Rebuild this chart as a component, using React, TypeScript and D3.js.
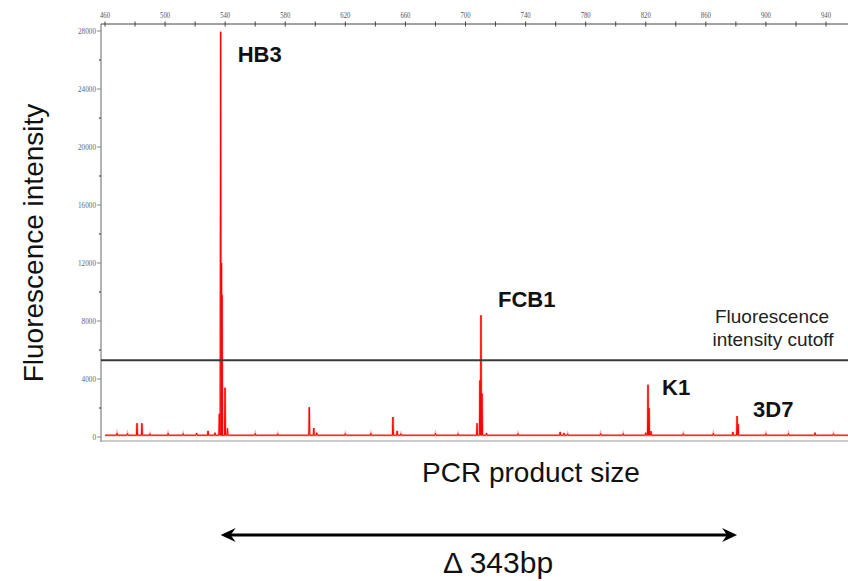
import React, { useEffect, useRef } from "react";
import * as d3 from "d3";

// fragment sizes (bp) and fluorescence of each spike in the trace
const peakSizes = [
  468, 475, 481.3, 484.6, 490, 502, 512, 521, 528.6, 533.2, 536.1, 537.0, 537.6, 537.9, 539.9,
  541.5, 560, 575, 596, 599, 601, 620, 637, 651.7, 654.5, 657, 680, 695, 707.7, 709.6, 710.3,
  711.0, 714, 735, 763, 765.5, 768, 790, 805, 820, 821.5, 822.2, 823.5, 845, 865, 878, 880.8,
  881.5, 900, 915, 932.7, 945,
];
const peakHeights = [
  260, 240, 950, 950, 220, 250, 230, 280, 420, 300, 1600, 27950, 12000, 9800, 3400,
  600, 240, 220, 2050, 620, 300, 230, 250, 1380, 420, 220, 240, 220, 950, 3900, 8400,
  3000, 280, 230, 350, 280, 220, 240, 230, 300, 3600, 2000, 400, 230, 250, 350, 1450,
  900, 230, 240, 300, 220,
];

const baseline = 120;
const cutoff = 5300;

const labelNames = ["HB3", "FCB1", "K1", "3D7"];
const labelSizes = [537.0, 710.3, 821.5, 880.8];
const labelHeights = [27950, 8400, 3600, 1450];

const sizeTicks = [460, 500, 540, 580, 620, 660, 700, 740, 780, 820, 860, 900, 940];
const intensityTicks = [0, 4000, 8000, 12000, 16000, 20000, 24000, 28000];

const App = () => {
  const ref = useRef<SVGSVGElement>(null);

  useEffect(() => {
    const svg = d3.select(ref.current);
    svg.selectAll("*").remove();

    const x = d3.scaleLinear().domain([460, 940]).range([105, 826]);
    const y = d3.scaleLinear().domain([0, 28000]).range([437, 31]);
    const left = 101;
    const right = 848;
    const top = 24;

    const tickFont = "Liberation Serif";
    const sans = "Liberation Sans";

    // frame
    svg.append("line").attr("x1", left).attr("x2", right).attr("y1", 441).attr("y2", 441)
      .attr("stroke", "#9a9a9a").attr("stroke-width", 1.2);
    svg.append("line").attr("x1", left).attr("x2", left).attr("y1", top).attr("y2", 442)
      .attr("stroke", "#9a9a9a").attr("stroke-width", 1.5);

    // top axis
    svg.append("line").attr("x1", left).attr("x2", right).attr("y1", top).attr("y2", top)
      .attr("stroke", "#444").attr("stroke-width", 1);
    const minorX = d3.range(440, 961, 20).filter((v) => x(v) > left && x(v) < right);
    svg.append("g").selectAll("line").data(minorX).enter().append("line")
      .attr("x1", (d) => x(d)).attr("x2", (d) => x(d))
      .attr("y1", top - 2.5).attr("y2", top + 2.5)
      .attr("stroke", "#444").attr("stroke-width", 1);
    svg.append("g").selectAll("text").data(sizeTicks).enter().append("text")
      .attr("x", (d) => x(d)).attr("y", 18)
      .attr("text-anchor", "middle")
      .attr("font-family", tickFont).attr("font-size", 8)
      .attr("fill", "#555")
      .attr("textLength", 10).attr("lengthAdjust", "spacingAndGlyphs")
      .text((d) => d);

    // left axis
    const minorY = d3.range(2000, 28000, 4000);
    svg.append("g").selectAll("line").data(minorY).enter().append("line")
      .attr("x1", left - 2).attr("x2", left)
      .attr("y1", (d) => y(d)).attr("y2", (d) => y(d))
      .attr("stroke", "#666").attr("stroke-width", 1.5);
    svg.append("g").selectAll("line").data(intensityTicks).enter().append("line")
      .attr("x1", left - 4).attr("x2", left)
      .attr("y1", (d) => y(d)).attr("y2", (d) => y(d))
      .attr("stroke", "#888").attr("stroke-width", 1);
    svg.append("g").selectAll("text").data(intensityTicks).enter().append("text")
      .attr("x", left - 5).attr("y", (d) => y(d) + 2.5)
      .attr("text-anchor", "end")
      .attr("font-family", tickFont).attr("font-size", 8)
      .attr("fill", "#666")
      .attr("textLength", (d) => String(d).length * 3.6)
      .attr("lengthAdjust", "spacingAndGlyphs")
      .text((d) => d);

    // trace
    const pts: [number, number][] = [[460, baseline]];
    peakSizes.forEach((s, i) => {
      pts.push([s - 0.35, baseline]);
      pts.push([s, peakHeights[i]]);
      pts.push([s + 0.35, baseline]);
    });
    pts.push([960, baseline]);
    const line = d3.line<[number, number]>()
      .x((d) => Math.min(x(d[0]), right))
      .y((d) => y(d[1]));
    svg.append("path").datum(pts).attr("d", line)
      .attr("fill", "none").attr("stroke", "#ff8080").attr("stroke-width", 2.4)
      .attr("opacity", 0.6);
    svg.append("path").datum(pts).attr("d", line)
      .attr("fill", "none").attr("stroke", "#ff0000").attr("stroke-width", 1);

    // cutoff
    svg.append("line").attr("x1", left).attr("x2", right)
      .attr("y1", y(cutoff)).attr("y2", y(cutoff))
      .attr("stroke", "#3a3a3a").attr("stroke-width", 2);

    // peak labels
    const labelDx = [17, 17, 14, 16];
    const labelDy = [30, -8, 10, 1];
    svg.append("g").selectAll("text").data(labelNames).enter().append("text")
      .attr("x", (d, i) => x(labelSizes[i]) + labelDx[i])
      .attr("y", (d, i) => y(labelHeights[i]) + labelDy[i])
      .attr("font-family", sans).attr("font-weight", "bold")
      .attr("font-size", 22).attr("fill", "#111")
      .text((d) => d);

    svg.append("text").attr("x", 772).attr("y", 323).attr("text-anchor", "middle")
      .attr("font-family", sans).attr("font-size", 19).attr("fill", "#222")
      .text("Fluorescence");
    svg.append("text").attr("x", 773).attr("y", 346).attr("text-anchor", "middle")
      .attr("font-family", sans).attr("font-size", 19).attr("fill", "#222")
      .text("intensity cutoff");

    // axis titles
    svg.append("text")
      .attr("transform", "translate(43,243)rotate(-90)")
      .attr("text-anchor", "middle")
      .attr("font-family", sans).attr("font-size", 28).attr("fill", "#111")
      .text("Fluorescence intensity");
    svg.append("text").attr("x", 531).attr("y", 482).attr("text-anchor", "middle")
      .attr("font-family", sans).attr("font-size", 28).attr("fill", "#111")
      .text("PCR product size");

    // distance arrow between HB3 and 3D7
    const ay = 535;
    const ax1 = x(labelSizes[0]);
    const ax2 = x(labelSizes[3]);
    svg.append("line").attr("x1", ax1 + 6).attr("x2", ax2 - 6).attr("y1", ay).attr("y2", ay)
      .attr("stroke", "#000").attr("stroke-width", 3.2);
    svg.append("path")
      .attr("d", `M${ax1},${ay} L${ax1 + 15},${ay - 7} L${ax1 + 10},${ay} L${ax1 + 15},${ay + 7} Z`)
      .attr("fill", "#000");
    svg.append("path")
      .attr("d", `M${ax2},${ay} L${ax2 - 15},${ay - 7} L${ax2 - 10},${ay} L${ax2 - 15},${ay + 7} Z`)
      .attr("fill", "#000");
    svg.append("text").attr("x", 498).attr("y", 573).attr("text-anchor", "middle")
      .attr("font-family", sans).attr("font-size", 30).attr("fill", "#111")
      .text("Δ 343bp");
  }, []);

  return (
    <svg
      ref={ref}
      width={848}
      height={581}
      style={{ position: "absolute", left: 0, top: 0, background: "#fff" }}
    />
  );
};

export default App;
